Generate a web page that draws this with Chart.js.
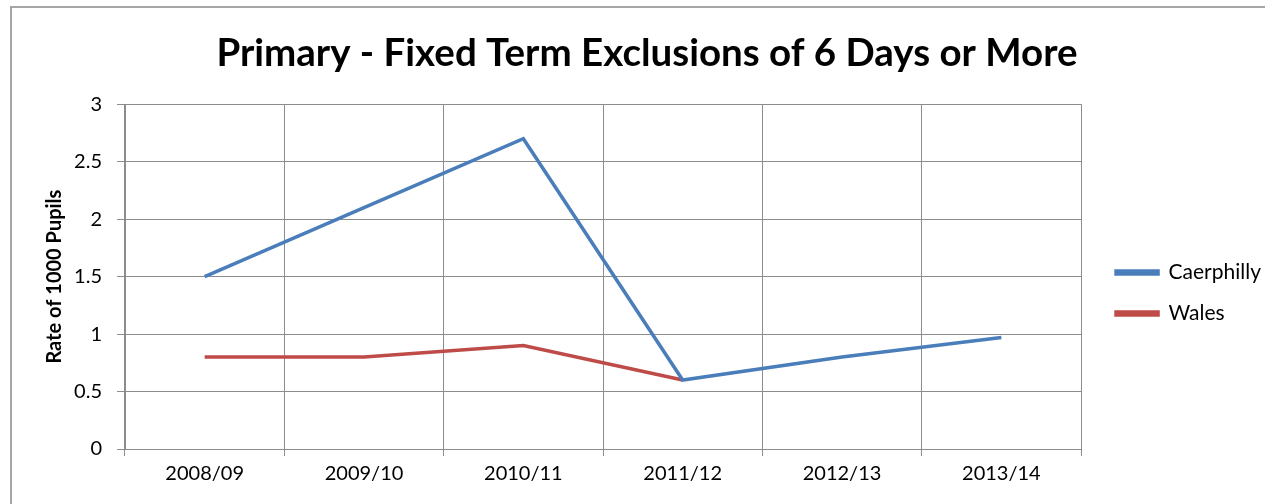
<!DOCTYPE html>
<html>
<head>
<meta charset="utf-8">
<script src="https://cdn.jsdelivr.net/npm/chart.js@4.4.1/dist/chart.umd.min.js"></script>
<style>
  html, body { margin: 0; padding: 0; background: #fff; overflow: hidden; }
  #wrap { position: relative; width: 1265px; height: 504px; }
  #frame { position: absolute; left: 10px; top: 6px; right: -10px; bottom: -10px; border-left: 2px solid #a6a6a6; border-top: 2px solid #a6a6a6; pointer-events: none; }
  canvas { position: absolute; left: 0; top: 0; }
</style>
</head>
<body>
<div id="wrap">
  <canvas id="c" width="1265" height="504"></canvas>
  <div id="frame"></div>
</div>
<script>
const titleText = "Primary - Fixed Term Exclusions of 6 Days or More";
const yAxisTitle = "Rate of 1000 Pupils";
const categories = ["2008/09", "2009/10", "2010/11", "2011/12", "2012/13", "2013/14"];
const caerphilly = [1.5, 2.1, 2.7, 0.6, 0.8, 0.97];
const wales = [0.8, 0.8, 0.9, 0.6, null, null];
const yTicks = [0, 0.5, 1, 1.5, 2, 2.5, 3];

const FONT = "Lato";
const gridColor = "#8c8c8c";

new Chart(document.getElementById("c"), {
  type: "line",
  data: {
    labels: categories,
    datasets: [
      { label: "Caerphilly", data: caerphilly, borderColor: "#4a7ebb", backgroundColor: "#4a7ebb",
        borderWidth: 3.5, pointRadius: 0, pointHoverRadius: 0, tension: 0, spanGaps: false },
      { label: "Wales", data: wales, borderColor: "#be4b48", backgroundColor: "#be4b48",
        borderWidth: 3.5, pointRadius: 0, pointHoverRadius: 0, tension: 0, spanGaps: false }
    ]
  },
  options: {
    responsive: false,
    animation: false,
    layout: { padding: { left: 23, right: -6, top: 0, bottom: 0 } },
    plugins: {
      title: {
        display: true, text: titleText, color: "#000",
        font: { family: FONT, size: 38.5, weight: "bold", lineHeight: 1.2 },
        padding: { top: 30, bottom: 28 }
      },
      legend: {
        position: "right", align: "start",
        title: { display: true, text: "", padding: { top: 241, bottom: 0 }, font: { size: 1, lineHeight: 1 } },
        labels: {
          color: "#000", boxWidth: 42, boxHeight: 3, padding: 20,
          font: { family: FONT, size: 21 }
        }
      },
      tooltip: { enabled: false }
    },
    scales: {
      x: {
        type: "category", offset: true,
        grid: { offset: true, color: gridColor, lineWidth: 1, drawTicks: true, tickLength: 7 },
        border: { color: gridColor, width: 1 },
        ticks: { color: "#000", padding: 6, maxRotation: 0, font: { family: FONT, size: 20 } },
        afterFit: (s) => { s.height = 55; }
      },
      y: {
        min: 0, max: 3,
        afterBuildTicks: (s) => { s.ticks = yTicks.map(v => ({ value: v })); },
        grid: { color: gridColor, lineWidth: 1, drawTicks: true, tickLength: 8 },
        border: { color: gridColor, width: 1 },
        ticks: { color: "#000", padding: 15, font: { family: FONT, size: 20 },
          callback: (v) => String(v) },
        title: { display: true, text: yAxisTitle, color: "#000", padding: { top: 20, bottom: 0 },
          font: { family: FONT, size: 20, weight: "bold" } },
        afterFit: (s) => { s.width = 102; }
      },
      spacer: {
        type: "linear", position: "right", display: true,
        grid: { display: false, drawOnChartArea: false, drawTicks: false },
        border: { display: false },
        ticks: { display: false },
        afterFit: (s) => { s.width = 15; }
      }
    }
  }
});
</script>
</body>
</html>
